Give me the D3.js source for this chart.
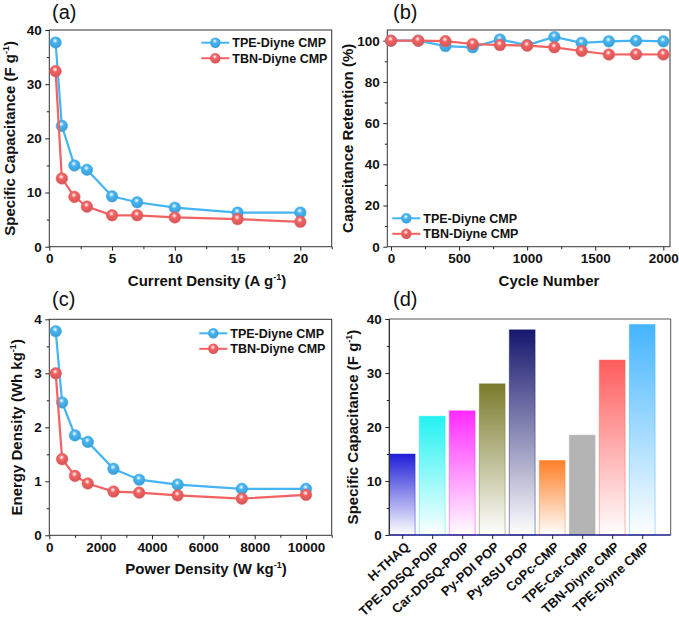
<!DOCTYPE html>
<meta charset="utf-8">
<script src="https://cdn.jsdelivr.net/npm/d3@7"></script>
<style>
  body { margin: 0; background: #fff; }
  text { font-family: "Liberation Sans", Arial, sans-serif; }
</style>
<div id="chart"></div>
<script>
// (a) specific capacitance vs current density
var currentDensity = [0.5, 1, 2, 3, 5, 7, 10, 15, 20];
var capTPE = [37.7, 22.3, 15.0, 14.2, 9.3, 8.2, 7.2, 6.3, 6.3];
var capTBN = [32.4, 12.6, 9.2, 7.4, 5.8, 5.8, 5.4, 5.1, 4.6];

// (b) cycling stability
var cycles = [0, 200, 400, 600, 800, 1000, 1200, 1400, 1600, 1800, 2000];
var retTPE = [100, 100, 97.4, 96.8, 100.6, 97.9, 101.8, 99.0, 99.7, 100, 99.7];
var retTBN = [100, 100, 99.8, 98.4, 97.9, 97.6, 96.8, 95.0, 93.3, 93.4, 93.3];

// (c) Ragone plot
var powerDensity = [250, 500, 1000, 1500, 2500, 3500, 5000, 7500, 10000];
var energyTPE = [3.78, 2.46, 1.85, 1.73, 1.23, 1.03, 0.94, 0.86, 0.86];
var energyTBN = [3.0, 1.41, 1.10, 0.96, 0.81, 0.79, 0.74, 0.68, 0.75];

// (d) comparison with other porous polymers
var materials = ["H-THAQ", "TPE-DDSQ-POIP", "Car-DDSQ-POIP", "Py-PDI POP", "Py-BSU POP",
                 "CoPc-CMP", "TPE-Car-CMP", "TBN-Diyne CMP", "TPE-Diyne CMP"];
var materialCap = [15, 22, 23, 28, 38, 13.8, 18.5, 32.4, 39];
var barColors = ["#1f1fd8", "#22f2f2", "#ff2aff", "#7b7b2c", "#16166e",
                 "#ff7f27", "#b4b4b4", "#ff5c5c", "#45b5ff"];

var seriesNames = ["TPE-Diyne CMP", "TBN-Diyne CMP"];
var seriesColors = ["#45b4f2", "#f26262"];

var svg = d3.select("#chart").append("svg")
  .attr("width", 679).attr("height", 617)
  .style("background", "#fff");

var defs = svg.append("defs");

// shiny ball markers
seriesColors.forEach(function(c, i) {
  var g = defs.append("radialGradient").attr("id", "ball" + i)
    .attr("cx", "45%").attr("cy", "35%").attr("r", "65%");
  g.append("stop").attr("offset", "0%").attr("stop-color", "#fff");
  g.append("stop").attr("offset", "35%").attr("stop-color", c);
  g.append("stop").attr("offset", "100%").attr("stop-color", d3.color(c).darker(0.4));
});

// bar fades
barColors.forEach(function(c, i) {
  var g = defs.append("linearGradient").attr("id", "bar" + i)
    .attr("x1", 0).attr("y1", 0).attr("x2", 0).attr("y2", 1);
  g.append("stop").attr("offset", "0%").attr("stop-color", c);
  g.append("stop").attr("offset", "100%").attr("stop-color", i == 6 ? c : "#fff");
});

function addTitle(sel, main, unit, sup) {
  sel.append("tspan").text(main);
  if (sup) {
    sel.append("tspan").text(unit);
    sel.append("tspan").attr("font-size", 9).attr("dy", -6).text(sup);
    sel.append("tspan").attr("dy", 6).text(")");
  }
}

function axes(g, x, y, w, h, o) {
  var xa = g.append("g").attr("transform", "translate(0," + h + ")")
    .call(d3.axisBottom(x).tickValues(o.xMinor).tickSize(2.5).tickFormat(""));
  xa.select(".domain").remove();
  xa = g.append("g").attr("transform", "translate(0," + h + ")")
    .call(d3.axisBottom(x).tickValues(o.xTicks).tickSize(4).tickPadding(3).tickFormat(d3.format("d")));
  xa.select(".domain").remove();
  var ya = g.append("g")
    .call(d3.axisLeft(y).tickValues(o.yMinor).tickSize(2.5).tickFormat(""));
  ya.select(".domain").remove();
  ya = g.append("g")
    .call(d3.axisLeft(y).tickValues(o.yTicks).tickSize(4).tickPadding(3.5).tickFormat(d3.format("d")));
  ya.select(".domain").remove();
  g.selectAll(".tick line").attr("stroke", "#222");
  g.selectAll(".tick text").attr("font-size", 13.5).attr("font-weight", "bold")
    .attr("fill", "#111").attr("font-family", "Liberation Sans, Arial, sans-serif");
  g.append("rect").attr("width", w).attr("height", h)
    .attr("fill", "none").attr("stroke", "#333").attr("stroke-width", 1);
}

function linePanel(o) {
  var w = o.w, h = o.h;
  var g = svg.append("g").attr("transform", "translate(" + o.left + "," + o.top + ")");
  var x = d3.scaleLinear().domain(o.xDomain).range([0, w]);
  var y = d3.scaleLinear().domain(o.yDomain).range([h, 0]);
  axes(g, x, y, w, h, o);

  var series = [o.y1, o.y2];
  var line = d3.line().x(function(d) { return x(d[0]); }).y(function(d) { return y(d[1]); });
  series.forEach(function(vals, i) {
    var pts = o.xs.map(function(v, k) { return [v, vals[k]]; });
    g.append("path").datum(pts).attr("d", line)
      .attr("fill", "none").attr("stroke", seriesColors[i]).attr("stroke-width", 2.2);
    g.selectAll(".pt" + i).data(pts).enter().append("circle")
      .attr("cx", function(d) { return x(d[0]); })
      .attr("cy", function(d) { return y(d[1]); })
      .attr("r", 5.8)
      .attr("fill", "url(#ball" + i + ")")
      .attr("stroke", d3.color(seriesColors[i]).darker(0.2)).attr("stroke-width", 0.5);
  });

  // legend
  seriesNames.forEach(function(name, i) {
    var ly = o.legY + i * 15.5;
    g.append("line").attr("x1", o.legX).attr("x2", o.legX + 28).attr("y1", ly).attr("y2", ly)
      .attr("stroke", seriesColors[i]).attr("stroke-width", 2);
    g.append("circle").attr("cx", o.legX + 14).attr("cy", ly).attr("r", 5.2)
      .attr("fill", "url(#ball" + i + ")");
    g.append("text").attr("x", o.legX + 31).attr("y", ly + 4.5)
      .attr("font-size", 12.5).attr("font-weight", "bold").attr("fill", "#111").text(name);
  });

  var xt = svg.append("text").attr("x", o.xTitleX).attr("y", o.top + h + 39)
    .attr("text-anchor", "middle").attr("font-size", 15).attr("font-weight", "bold").attr("fill", "#111");
  addTitle(xt, o.xTitle[0], o.xTitle[1], o.xTitle[2]);
  var yt = svg.append("text")
    .attr("transform", "translate(" + o.yTitleX + "," + (o.top + h / 2) + ") rotate(-90)")
    .attr("text-anchor", "middle").attr("font-size", 15).attr("font-weight", "bold").attr("fill", "#111");
  addTitle(yt, o.yTitle[0], o.yTitle[1], o.yTitle[2]);

  svg.append("text").attr("x", o.labelX).attr("y", o.labelY)
    .attr("font-size", 20).attr("fill", "#111").text(o.label);
}

linePanel({
  left: 49.3, top: 30, w: 282.4, h: 216.7,
  xDomain: [0, 22.5], yDomain: [0, 40],
  xTicks: [0, 5, 10, 15, 20], xMinor: [2.5, 7.5, 12.5, 17.5, 22.5],
  yTicks: [0, 10, 20, 30, 40], yMinor: [5, 15, 25, 35],
  xs: currentDensity, y1: capTPE, y2: capTBN,
  legX: 152, legY: 12.7,
  xTitle: ["Current Density", " (A g", "-1"], xTitleX: 207,
  yTitle: ["Specific Capacitance", " (F g", "-1"], yTitleX: 15,
  label: "(a)", labelX: 52, labelY: 19
});

linePanel({
  left: 387.3, top: 30, w: 282.7, h: 216.7,
  xDomain: [-27, 2049], yDomain: [0, 105.2],
  xTicks: [0, 500, 1000, 1500, 2000], xMinor: [250, 750, 1250, 1750],
  yTicks: [0, 20, 40, 60, 80, 100], yMinor: [10, 30, 50, 70, 90],
  xs: cycles, y1: retTPE, y2: retTBN,
  legX: 5, legY: 188.3,
  xTitle: ["Cycle Number"], xTitleX: 549,
  yTitle: ["Capacitance Retention (%)"], yTitleX: 353,
  label: "(b)", labelX: 393, labelY: 19
});

linePanel({
  left: 49.3, top: 319.3, w: 282.4, h: 216,
  xDomain: [0, 11000], yDomain: [0, 4],
  xTicks: [0, 2000, 4000, 6000, 8000, 10000], xMinor: [1000, 3000, 5000, 7000, 9000, 11000],
  yTicks: [0, 1, 2, 3, 4], yMinor: [0.5, 1.5, 2.5, 3.5],
  xs: powerDensity, y1: energyTPE, y2: energyTBN,
  legX: 150, legY: 14,
  xTitle: ["Power Density", " (W kg", "-1"], xTitleX: 206,
  yTitle: ["Energy Density", " (Wh kg", "-1"], yTitleX: 22,
  label: "(c)", labelX: 52, labelY: 306
});

// (d) bar chart
(function() {
  var left = 389.3, top = 319, w = 281.4, h = 216;
  var g = svg.append("g").attr("transform", "translate(" + left + "," + top + ")");
  var x = d3.scaleLinear().domain([0.57, 9.95]).range([0, w]);
  var y = d3.scaleLinear().domain([0, 40]).range([h, 0]);
  var idx = materials.map(function(d, i) { return i + 1; });
  var bw = x(1.86) - x(1);

  g.selectAll(".bar").data(materialCap).enter().append("rect")
    .attr("x", function(d, i) { return x(i + 1) - bw / 2; })
    .attr("y", function(d) { return y(d); })
    .attr("width", bw)
    .attr("height", function(d) { return h - y(d); })
    .attr("fill", function(d, i) { return "url(#bar" + i + ")"; })
    .attr("stroke", function(d, i) { return barColors[i]; })
    .attr("stroke-opacity", 0.45).attr("stroke-width", 1);

  var ya = g.append("g").call(d3.axisLeft(y).tickValues([5, 15, 25, 35]).tickSize(2.5).tickFormat(""));
  ya.select(".domain").remove();
  ya = g.append("g").call(d3.axisLeft(y).tickValues([0, 10, 20, 30, 40]).tickSize(4).tickPadding(3.5));
  ya.select(".domain").remove();
  var xa = g.append("g").attr("transform", "translate(0," + h + ")")
    .call(d3.axisBottom(x).tickValues(idx).tickSize(4).tickFormat(""));
  xa.select(".domain").remove();
  g.selectAll(".tick line").attr("stroke", "#222");
  g.selectAll(".tick text").attr("font-size", 13.5).attr("font-weight", "bold").attr("fill", "#111")
    .attr("font-family", "Liberation Sans, Arial, sans-serif");

  g.append("path").attr("d", "M0," + h + "V0H" + w + "V" + h)
    .attr("fill", "none").attr("stroke", "#555").attr("stroke-width", 1);
  g.append("line").attr("x1", 0).attr("x2", 0).attr("y1", 0).attr("y2", h).attr("stroke", "#222");
  g.append("line").attr("x1", 0).attr("x2", w).attr("y1", h).attr("y2", h)
    .attr("stroke", "#1c1c8a").attr("stroke-width", 1.5);

  g.selectAll(".lab").data(materials).enter().append("text")
    .attr("transform", function(d, i) { return "translate(" + (x(i + 1) + 8) + "," + (h + 13) + ") rotate(-42)"; })
    .attr("text-anchor", "end").attr("font-size", 13).attr("font-weight", "bold").attr("fill", "#111")
    .text(function(d) { return d; });

  var yt = svg.append("text")
    .attr("transform", "translate(358," + (top + h / 2) + ") rotate(-90)")
    .attr("text-anchor", "middle").attr("font-size", 15).attr("font-weight", "bold").attr("fill", "#111");
  addTitle(yt, "Specific Capacitance", " (F g", "-1");

  svg.append("text").attr("x", 393).attr("y", 306).attr("font-size", 20).attr("fill", "#111").text("(d)");
})();
</script>
